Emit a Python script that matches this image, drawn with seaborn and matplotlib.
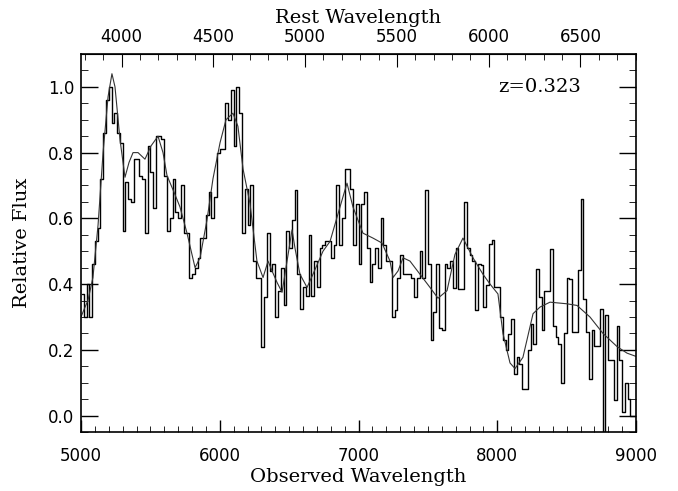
import matplotlib
matplotlib.use("Agg")
import matplotlib.pyplot as plt
import matplotlib.ticker as mticker
import numpy as np
import seaborn as sns

# Redshift of the object
redshift = 0.323

# Observed spectrum: 20 A bins starting at 5000 A (flux)
wave_start = 5000.0
wave_step = 20.0
flux = [
    0.37, 0.30, 0.40, 0.30, 0.46, 0.53, 0.57, 0.72, 0.86, 0.96,
    1.00, 0.89, 0.92, 0.86, 0.83, 0.56, 0.71, 0.66, 0.65, 0.78,
    0.78, 0.73, 0.72, 0.555, 0.82, 0.74, 0.63, 0.85, 0.85, 0.84,
    0.73, 0.56, 0.60, 0.72, 0.62, 0.60, 0.70, 0.555, 0.555, 0.42,
    0.43, 0.45, 0.48, 0.54, 0.54, 0.61, 0.68, 0.60, 0.665, 0.80,
    0.81, 0.81, 0.95, 0.90, 0.99, 0.82, 1.00, 0.92, 0.555, 0.69,
    0.58, 0.70, 0.47, 0.42, 0.42, 0.21, 0.36, 0.555, 0.44, 0.46,
    0.30, 0.38, 0.45, 0.335, 0.56, 0.51, 0.595, 0.685, 0.43, 0.325,
    0.39, 0.365, 0.55, 0.365, 0.47, 0.39, 0.51, 0.52, 0.53, 0.53,
    0.48, 0.52, 0.70, 0.52, 0.60, 0.75, 0.75, 0.69, 0.52, 0.645,
    0.46, 0.645, 0.68, 0.51, 0.405, 0.46, 0.51, 0.45, 0.60, 0.52,
    0.47, 0.47, 0.30, 0.32, 0.42, 0.49, 0.43, 0.43, 0.43, 0.42,
    0.36, 0.42, 0.50, 0.42, 0.686, 0.46, 0.23, 0.315, 0.46, 0.265,
    0.26, 0.46, 0.45, 0.47, 0.387, 0.51, 0.385, 0.385, 0.65, 0.51,
    0.49, 0.47, 0.32, 0.46, 0.457, 0.33, 0.396, 0.523, 0.534, 0.39,
    0.39, 0.30, 0.229, 0.198, 0.249, 0.295, 0.127, 0.178, 0.158, 0.081,
    0.081, 0.20, 0.28, 0.218, 0.447, 0.36, 0.26, 0.38, 0.38, 0.508,
    0.274, 0.239, 0.218, 0.10, 0.25, 0.42, 0.416, 0.254, 0.254, 0.442,
    0.66, 0.356, 0.254, 0.112, 0.26, 0.213, 0.213, 0.325, -0.10, 0.305,
    0.168, 0.168, 0.046, 0.274, 0.168, 0.01, 0.10, 0.05, 0.0, 0.0,
]

# Smooth template overplotted (knots)
model_wave = [
    5000, 5029, 5050, 5086, 5123, 5159, 5195, 5223, 5245, 5281,
    5317, 5346, 5375, 5411, 5461, 5504, 5555, 5591, 5620, 5670,
    5713, 5764, 5822, 5858, 5908, 5951, 6002, 6045, 6095, 6131,
    6168, 6218, 6268, 6312, 6348, 6377, 6413, 6449, 6485, 6521,
    6542, 6578, 6629, 6672, 6744, 6795, 6867, 6917, 6960, 7032,
    7104, 7169, 7227, 7249, 7285, 7321, 7371, 7443, 7515, 7573,
    7638, 7695, 7753, 7825, 7897, 7948, 8005, 8041, 8092, 8128,
    8185, 8258, 8308, 8380, 8503, 8575, 8668, 8762, 8863, 8935,
    9000,
]
model_flux = [
    0.30, 0.33, 0.35, 0.42, 0.58, 0.80, 0.97, 1.04, 1.00, 0.84,
    0.725, 0.77, 0.80, 0.80, 0.78, 0.82, 0.85, 0.80, 0.73, 0.68,
    0.635, 0.555, 0.45, 0.48, 0.595, 0.72, 0.83, 0.90, 0.92, 0.88,
    0.75, 0.645, 0.47, 0.42, 0.47, 0.44, 0.405, 0.375, 0.47, 0.565,
    0.51, 0.43, 0.39, 0.43, 0.50, 0.53, 0.635, 0.707, 0.635, 0.555,
    0.54, 0.525, 0.47, 0.42, 0.44, 0.48, 0.47, 0.43, 0.39, 0.357,
    0.38, 0.49, 0.54, 0.48, 0.43, 0.40, 0.37, 0.25, 0.16, 0.143,
    0.177, 0.31, 0.33, 0.345, 0.34, 0.335, 0.30, 0.25, 0.21, 0.19,
    0.18,
]

# Rest-frame tick marks on the top axis
rest_ticks = [4000, 4500, 5000, 5500, 6000, 6500]

sns.set_style("ticks")
plt.rcParams["font.family"] = ["DejaVu Sans"]
plt.rcParams["xtick.direction"] = "in"
plt.rcParams["ytick.direction"] = "in"
for key in ["text.color", "axes.labelcolor", "xtick.color", "ytick.color",
            "axes.edgecolor"]:
    plt.rcParams[key] = "black"

wave = wave_start + wave_step * (np.arange(len(flux)) + 0.5)

fig = plt.figure(figsize=(6.78, 4.91), dpi=100)
ax = fig.add_axes([81 / 678, 1 - 432 / 491, 555 / 678, 378 / 491])

sns.lineplot(x=wave, y=flux, ax=ax, color="black", linewidth=1.0,
             drawstyle="steps-mid", estimator=None, sort=False)
sns.lineplot(x=model_wave, y=model_flux, ax=ax, color="#333333",
             linewidth=0.8, estimator=None, sort=False)

ax.set_xlim(5000, 9000)
ax.set_ylim(-0.05, 1.10)

label_font = dict(family="DejaVu Serif", size=14)
ax.set_xlabel("Observed Wavelength", fontdict=label_font, labelpad=2)
ax.set_ylabel("Relative Flux", fontdict=label_font, labelpad=12)

ax.xaxis.set_major_locator(mticker.MultipleLocator(1000))
ax.xaxis.set_minor_locator(mticker.MultipleLocator(100))
ax.yaxis.set_major_locator(mticker.MultipleLocator(0.2))
ax.yaxis.set_minor_locator(mticker.MultipleLocator(0.05))
ax.yaxis.set_major_formatter(mticker.FormatStrFormatter("%.1f"))
ax.tick_params(axis="both", which="major", labelsize=12, width=1.0)
ax.tick_params(axis="x", which="major", length=9, pad=11)
ax.tick_params(axis="y", which="major", length=12, pad=5, right=True)
ax.tick_params(axis="y", which="minor", length=5, right=True)
ax.tick_params(axis="x", which="minor", length=4)
for spine in ax.spines.values():
    spine.set_linewidth(1.2)
    spine.set_visible(True)

# Rest-frame wavelength on the top axis
top = ax.secondary_xaxis(
    "top",
    functions=(lambda w: w / (1 + redshift), lambda w: w * (1 + redshift)),
)
top.xaxis.set_major_locator(mticker.FixedLocator(rest_ticks))
top.xaxis.set_minor_locator(mticker.MultipleLocator(100))
top.tick_params(axis="x", which="major", direction="in", length=9,
                labelsize=12, pad=6)
top.tick_params(axis="x", which="minor", direction="in", length=4)
top.set_xlabel("Rest Wavelength", fontdict=label_font, labelpad=3)

ax.text(0.752, 0.913, f"z={redshift}", transform=ax.transAxes,
        fontsize=14, family="DejaVu Serif", va="center", ha="left")

fig.savefig("out.png", dpi=100)
